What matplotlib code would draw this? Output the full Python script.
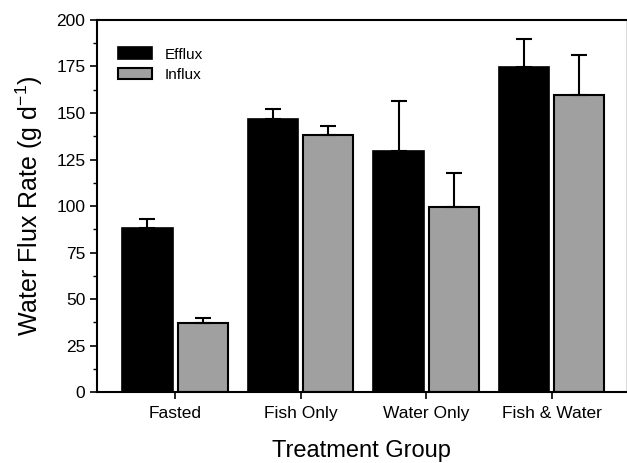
import numpy as np
import matplotlib
matplotlib.use("Agg")
import matplotlib.pyplot as plt
from matplotlib.ticker import MultipleLocator

plt.rcParams['font.family'] = ['Liberation Sans', 'DejaVu Sans']
plt.rcParams['mathtext.fontset'] = 'custom'
plt.rcParams['mathtext.rm'] = 'Liberation Sans'
plt.rcParams['mathtext.it'] = 'Liberation Sans'

groups = ["Fasted", "Fish Only", "Water Only", "Fish & Water"]
efflux = [88, 146.5, 129.5, 174.5]
efflux_err = [5, 5.5, 27, 15.5]
influx = [37, 138, 99.5, 159.5]
influx_err = [3, 5, 18.5, 21.5]

x = np.arange(len(groups))
w = 0.4
off = 0.22

fig = plt.figure(figsize=(6.27, 4.63), dpi=100)
ax = fig.add_axes([0.155, 0.153, 0.843, 0.804])

ax.bar(x - off, efflux, w, color="black", edgecolor="black", linewidth=1.2,
       yerr=[np.zeros(4), efflux_err], error_kw=dict(ecolor="black", elinewidth=1.5, capsize=6, capthick=1.5),
       label="Efflux")
ax.bar(x + off, influx, w, color="#a0a0a0", edgecolor="black", linewidth=1.5,
       yerr=[np.zeros(4), influx_err], error_kw=dict(ecolor="black", elinewidth=1.5, capsize=6, capthick=1.5),
       label="Influx")

ax.set_xlim(-0.62, 3.59)
ax.set_ylim(0, 200)
ax.set_xticks(x)
ax.set_xticklabels(groups, fontsize=12.5)
ax.yaxis.set_major_locator(MultipleLocator(25))
ax.yaxis.set_minor_locator(MultipleLocator(12.5))
ax.tick_params(axis="y", labelsize=12.5, direction="out", length=5, width=1.2)
ax.tick_params(axis="y", which="minor", length=3, width=1)
ax.tick_params(axis="x", direction="out", length=5, width=1.2, pad=5)

for s in ["left", "bottom", "top"]:
    ax.spines[s].set_linewidth(1.5)
ax.spines["right"].set_linewidth(0.5)
ax.spines["right"].set_color("#cccccc")

ax.set_ylabel("Water Flux Rate (g d$^{-1}$)", fontsize=18, labelpad=8)
ax.set_xlabel("Treatment Group", fontsize=17, labelpad=14)

ax.legend(loc="upper left", frameon=False, fontsize=11, bbox_to_anchor=(0.02, 0.955),
          handlelength=2.2, handleheight=0.8, borderaxespad=0.3, labelspacing=0.4)

fig.savefig("out.png", dpi=100)
